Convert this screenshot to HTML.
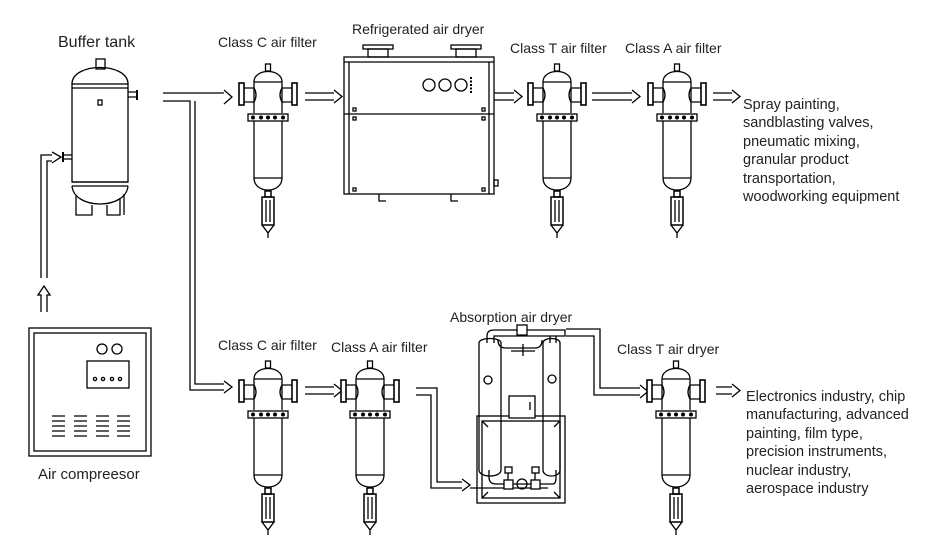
<!DOCTYPE html>
<html><head><meta charset="utf-8"><style>
html,body{margin:0;padding:0;background:#fff;}
svg{display:block}
text{font-family:"Liberation Sans",sans-serif;fill:#222;}
</style></head><body>
<svg width="925" height="541" viewBox="0 0 925 541" xmlns="http://www.w3.org/2000/svg">
<defs>
<g id="flt" fill="none" stroke="#000" stroke-width="1.3">
  <path d="M-14,22 C-14,8 14,8 14,22" fill="#fff"/>
  <rect x="-2.5" y="4" width="5" height="7" fill="#fff"/>
  <line x1="-14" y1="22" x2="14" y2="22"/>
  <line x1="-14" y1="22" x2="-14" y2="53"/><line x1="14" y1="22" x2="14" y2="53"/>
  <path d="M-14,28 h-10 M-14,42 h-10 M-14,28 q4,7 0,14"/>
  <path d="M14,28 h10 M14,42 h10 M14,28 q-4,7 0,14"/>
  <rect x="-29" y="23" width="5" height="22" fill="#fff" stroke-width="1.6"/>
  <rect x="24" y="23" width="5" height="22" fill="#fff" stroke-width="1.6"/>
  <rect x="-20" y="54" width="40" height="7" fill="#fff"/>
  <g fill="#000" stroke="none"><circle cx="-15" cy="57.5" r="2"/><circle cx="-7" cy="57.5" r="2"/><circle cx="0" cy="57.5" r="2"/><circle cx="7" cy="57.5" r="2"/><circle cx="15" cy="57.5" r="2"/></g>
  <line x1="-14" y1="61" x2="-14" y2="118"/><line x1="14" y1="61" x2="14" y2="118"/>
  <line x1="-14" y1="118" x2="14" y2="118"/>
  <path d="M-14,118 C-14,134 14,134 14,118"/>
  <rect x="-3" y="131" width="6" height="6" stroke-width="1.5"/>
  <rect x="-6" y="137" width="12" height="28" stroke-width="1.5"/>
  <line x1="-2" y1="140" x2="-2" y2="162"/><line x1="2" y1="140" x2="2" y2="162"/>
  <path d="M-6,165 L0,173 L6,165 M0,173 V178"/>
</g>
</defs>

<!-- labels -->
<text x="58" y="47" font-size="16">Buffer tank</text>
<text x="218" y="47" font-size="14">Class C air filter</text>
<text x="352" y="34" font-size="14">Refrigerated air dryer</text>
<text x="510" y="53" font-size="14">Class T air filter</text>
<text x="625" y="53" font-size="14">Class A air filter</text>
<text x="218" y="350" font-size="14">Class C air filter</text>
<text x="331" y="352" font-size="14">Class A air filter</text>
<text x="450" y="322" font-size="14">Absorption air dryer</text>
<text x="617" y="354" font-size="14">Class T air dryer</text>
<text x="38" y="479" font-size="15">Air compreesor</text>
<g font-size="14.5">
<text x="743" y="109">Spray painting,</text>
<text x="743" y="127">sandblasting valves,</text>
<text x="743" y="146">pneumatic mixing,</text>
<text x="743" y="164">granular product</text>
<text x="743" y="183">transportation,</text>
<text x="743" y="201">woodworking equipment</text>
<text x="746" y="401">Electronics industry, chip</text>
<text x="746" y="419">manufacturing, advanced</text>
<text x="746" y="438">painting, film type,</text>
<text x="746" y="456">precision instruments,</text>
<text x="746" y="475"> nuclear industry,</text>
<text x="746" y="493">aerospace industry</text>
</g>

<g fill="none" stroke="#000" stroke-width="1.3">
<!-- buffer tank -->
<rect x="96" y="59" width="9" height="10" fill="#fff"/>
<path d="M72,84 C72,62 128,62 128,84"/>
<rect x="72" y="84" width="56" height="98"/>
<line x1="72" y1="88" x2="128" y2="88"/>
<line x1="72" y1="182" x2="128" y2="182"/>
<path d="M72,186 C74,210 126,210 128,186"/>
<line x1="72" y1="186" x2="128" y2="186"/>
<path d="M76,196 V215 H92 L92,205 M107,205 L107,215 H120 V198 M124,194 V215"/>
<rect x="98" y="100" width="4" height="5"/>
<path d="M128,92 H136 M128,97 H136"/><line x1="137" y1="90" x2="137" y2="100" stroke-width="2"/>
<path d="M72,155 H64 M72,159 H64"/><line x1="63" y1="152" x2="63" y2="162" stroke-width="2"/>
<!-- pipe from compressor to tank -->
<path d="M41,278 V155 H52 M47,278 V161 H52"/>
<path d="M52,152 L61,157 L52,163"/>
<!-- up arrow above compressor -->
<path d="M41,312 V295 H38 L44,286 L50,295 H47 V312"/>
<!-- compressor -->
<rect x="29" y="328" width="122" height="128"/>
<rect x="34" y="333" width="112" height="118"/>
<circle cx="102" cy="349" r="5"/><circle cx="117" cy="349" r="5"/>
<rect x="87" y="361" width="42" height="27"/>
<circle cx="95" cy="379" r="1.6"/><circle cx="103" cy="379" r="1.6"/><circle cx="112" cy="379" r="1.6"/><circle cx="120" cy="379" r="1.6"/>
<g stroke-width="1.2">
<path d="M52,416h13M52,421h13M52,426h13M52,431h13M52,436h13"/>
<path d="M74,416h13M74,421h13M74,426h13M74,431h13M74,436h13"/>
<path d="M96,416h13M96,421h13M96,426h13M96,431h13M96,436h13"/>
<path d="M117,416h13M117,421h13M117,426h13M117,431h13M117,436h13"/>
</g>
<!-- main pipe + branch -->
<path d="M163,93 H224 M163,101 H190 V390 H224 M195,101 V384 H224"/>
<path d="M224,90 L232,97 L224,104"/>
<path d="M224,381 L232,387 L224,393"/>
<!-- arrows top row -->
<path d="M305,93 H334 M305,100 H334 M334,90 L342,96.5 L334,103"/>
<path d="M494,93 H514 M494,100 H514 M514,90 L522,96.5 L514,103"/>
<path d="M592,93 H632 M592,100 H632 M632,90 L640,96.5 L632,103"/>
<path d="M713,93 H732 M713,100 H732 M732,90 L740,96.5 L732,103"/>
<!-- refrigerated dryer -->
<rect x="344" y="57" width="150" height="137"/>
<line x1="344" y1="62" x2="494" y2="62"/>
<line x1="349" y1="62" x2="349" y2="194"/><line x1="489" y1="62" x2="489" y2="194"/>
<line x1="344" y1="114" x2="494" y2="114"/>
<rect x="363" y="45" width="30" height="4"/><rect x="368" y="49" width="20" height="8"/>
<rect x="451" y="45" width="30" height="4"/><rect x="456" y="49" width="20" height="8"/>
<circle cx="429" cy="85" r="6"/><circle cx="445" cy="85" r="6"/><circle cx="461" cy="85" r="6"/>
<line x1="471" y1="77" x2="471" y2="93" stroke-width="2" stroke-dasharray="2 1.5"/>
<rect x="353" y="108" width="3" height="3"/><rect x="482" y="108" width="3" height="3"/>
<rect x="353" y="117" width="3" height="3"/><rect x="482" y="117" width="3" height="3"/>
<rect x="353" y="188" width="3" height="3"/><rect x="482" y="188" width="3" height="3"/>
<rect x="494" y="180" width="4" height="6"/>
<path d="M379,194 V201 H386 M451,194 V201 H458"/>
<!-- bottom arrows -->
<path d="M305,387 H334 M305,394 H334 M334,384 L342,390.5 L334,397"/>
<path d="M416,388 H437 V482 H462 M416,395 H431 V488 H462 M462,479 L470,485 L462,491"/>
<!-- absorption dryer -->
<path d="M479,343 C479,337 501,337 501,343 V470 C501,478 479,478 479,470 Z" fill="#fff"/>
<path d="M543,343 C543,337 560,337 560,343 V470 C560,478 543,478 543,470 Z" fill="#fff"/>
<rect x="477" y="416" width="88" height="87"/>
<rect x="482" y="421" width="78" height="77"/>
<path d="M482,421 l6,6 M560,421 l-6,6 M482,498 l6,-6 M560,498 l-6,-6"/>
<circle cx="488" cy="380" r="4"/><circle cx="552" cy="379" r="4"/>
<rect x="509" y="396" width="26" height="22" fill="#fff"/>
<line x1="530" y1="402" x2="530" y2="410"/>
<path d="M487,343 V336 Q487,330 494,330 H565 V336 H494 V343"/>
<path d="M550,343 V336 M556,343 V336"/>
<rect x="517" y="325" width="10" height="10" fill="#fff"/>
<path d="M498,340 Q498,348 506,348 H535 Q542,348 542,340"/>
<path d="M511,351 H535 M523,344 V356"/>
<path d="M489,470 V477 Q489,484 496,484 H553 Q556,484 556,477 V470"/>
<path d="M470,488 H548"/>
<rect x="504" y="480" width="9" height="9" fill="#fff"/><rect x="531" y="480" width="9" height="9" fill="#fff"/>
<circle cx="522" cy="484" r="5"/>
<rect x="505" y="467" width="7" height="6"/><line x1="508" y1="473" x2="508" y2="480"/>
<rect x="532" y="467" width="7" height="6"/><line x1="535" y1="473" x2="535" y2="480"/>
<!-- outlet pipe -->
<path d="M566,329 H600 V388 H640 M566,336 H594 V395 H640 M640,385 L648,391.5 L640,398"/>
<path d="M716,387 H732 M716,394 H732 M732,384 L740,390.5 L732,397"/>
</g>

<!-- filters -->
<use href="#flt" transform="translate(268,60)"/>
<use href="#flt" transform="translate(557,60)"/>
<use href="#flt" transform="translate(677,60)"/>
<use href="#flt" transform="translate(268,357)"/>
<use href="#flt" transform="translate(370,357)"/>
<use href="#flt" transform="translate(676,357)"/>
</svg>
</body></html>
